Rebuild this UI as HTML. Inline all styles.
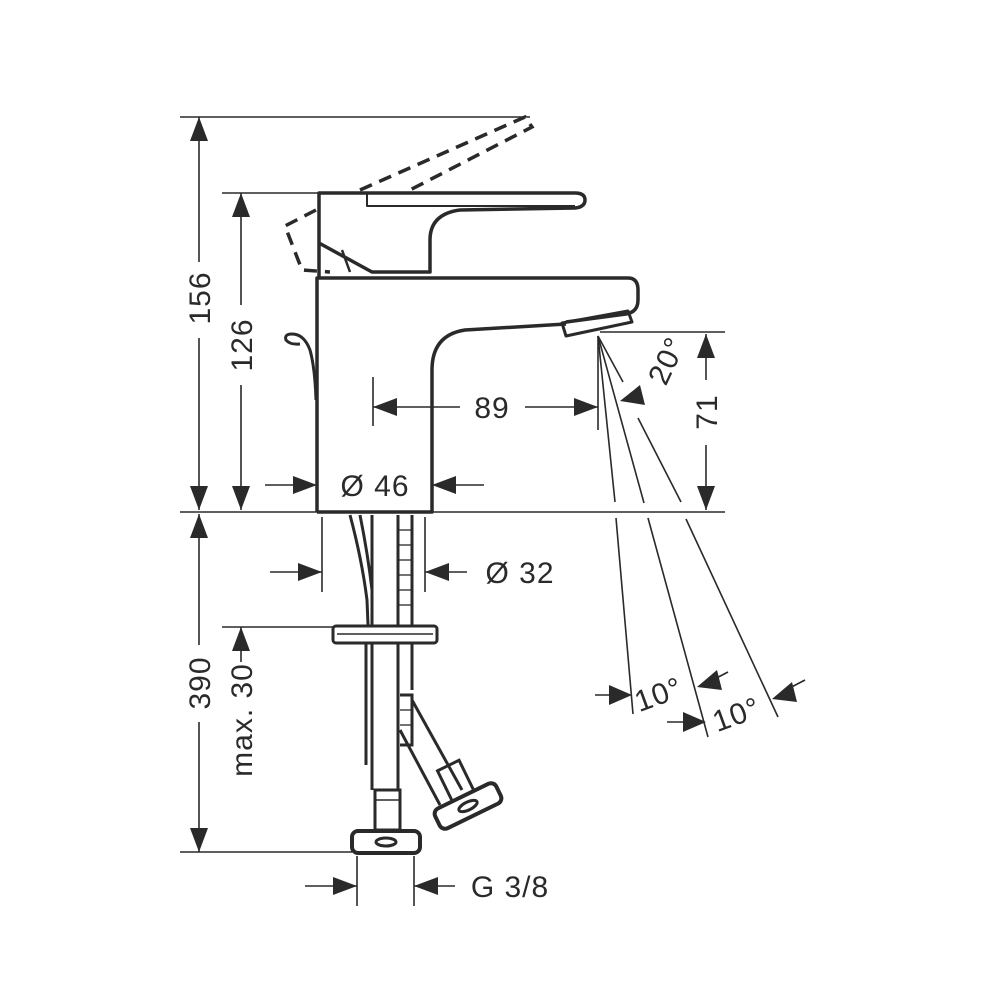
<!DOCTYPE html>
<html><head><meta charset="utf-8"><style>
html,body{margin:0;padding:0;background:#fff;}
svg{display:block;}
text{font-family:"Liberation Sans",sans-serif;fill:#2a2a2a;font-size:30px;letter-spacing:1px;}
</style></head><body>
<svg width="1000" height="1000" viewBox="0 0 1000 1000" xmlns="http://www.w3.org/2000/svg">
<g stroke="#2a2a2a" fill="none" stroke-width="1.6">
<line x1="180" y1="117" x2="530" y2="117"/>
<line x1="222" y1="193" x2="320" y2="193"/>
<line x1="180" y1="512" x2="318" y2="512"/>
<line x1="432" y1="512" x2="725" y2="512"/>
<line x1="180" y1="852" x2="352" y2="852"/>
<line x1="222" y1="627" x2="335" y2="627"/>
<line x1="600" y1="332" x2="725" y2="332"/>
<line x1="199" y1="117" x2="199" y2="262"/>
<line x1="199" y1="338" x2="199" y2="510"/>
<line x1="241" y1="193" x2="241" y2="305"/>
<line x1="241" y1="385" x2="241" y2="510"/>
<line x1="199" y1="514" x2="199" y2="645"/>
<line x1="199" y1="722" x2="199" y2="852"/>
<line x1="241" y1="627" x2="241" y2="662"/>
<line x1="706" y1="334" x2="706" y2="380"/>
<line x1="706" y1="445" x2="706" y2="510"/>
<line x1="373" y1="377" x2="373" y2="426"/>
<line x1="373" y1="407" x2="460" y2="407"/>
<line x1="525" y1="407" x2="598" y2="407"/>
<line x1="265" y1="485" x2="317" y2="485"/>
<line x1="432" y1="485" x2="484" y2="485"/>
<line x1="322" y1="517" x2="322" y2="592"/>
<line x1="425" y1="517" x2="425" y2="592"/>
<line x1="270" y1="572" x2="322" y2="572"/>
<line x1="425" y1="572" x2="467" y2="572"/>
<line x1="357" y1="856" x2="357" y2="906"/>
<line x1="414" y1="856" x2="414" y2="906"/>
<line x1="305" y1="886" x2="357" y2="886"/>
<line x1="414" y1="886" x2="455" y2="886"/>
<line x1="598" y1="336" x2="598" y2="430"/>
<line x1="598" y1="336" x2="615" y2="502"/>
<line x1="616" y1="518" x2="633" y2="714"/>
<line x1="598" y1="336" x2="644" y2="503"/>
<line x1="648" y1="518" x2="708" y2="737"/>
<line x1="598" y1="336" x2="623" y2="382"/>
<line x1="638" y1="418" x2="681" y2="502"/>
<line x1="686" y1="519" x2="778" y2="717"/>
<line x1="595" y1="695" x2="615" y2="695"/>
<line x1="728" y1="672" x2="705" y2="684"/>
<line x1="667" y1="722" x2="690" y2="722"/>
<line x1="805" y1="680" x2="782" y2="692"/>
<line x1="625" y1="398" x2="640" y2="392"/>
</g>
<g fill="#2a2a2a">
<polygon points="199,117 190,141 208,141"/>
<polygon points="199,510 190,486 208,486"/>
<polygon points="241,193 232,217 250,217"/>
<polygon points="241,510 232,486 250,486"/>
<polygon points="199,514 190,538 208,538"/>
<polygon points="199,852 190,828 208,828"/>
<polygon points="241,627 232,651 250,651"/>
<polygon points="706,334 697,358 715,358"/>
<polygon points="706,510 697,486 715,486"/>
<polygon points="373,407 397,398 397,416"/>
<polygon points="598,407 574,398 574,416"/>
<polygon points="317,485 293,476 293,494"/>
<polygon points="432,485 456,476 456,494"/>
<polygon points="322,572 298,563 298,581"/>
<polygon points="425,572 449,563 449,581"/>
<polygon points="357,886 333,877 333,895"/>
<polygon points="414,886 438,877 438,895"/>
<polygon points="632,695 609,685 609,705"/>
<polygon points="697,687 717,670 722,690"/>
<polygon points="706,722 683,712 683,732"/>
<polygon points="772,699 792,682 797,702"/>
<polygon points="620,401 640,385 645,405"/>
</g>
<g text-anchor="middle">
<text transform="translate(210,298) rotate(-90)">156</text>
<text transform="translate(252,345) rotate(-90)">126</text>
<text transform="translate(210,683) rotate(-90)">390</text>
<text transform="translate(252,720) rotate(-90)">max. 30</text>
<text transform="translate(717,412) rotate(-90)">71</text>
<text transform="translate(676,365) rotate(-65)">20°</text>
<text transform="translate(662,704) rotate(-20)">10°</text>
<text transform="translate(740,724) rotate(-20)">10°</text>
<text x="492" y="418">89</text>
<text x="375" y="496">Ø 46</text>
<text x="520" y="583">Ø 32</text>
<text x="510" y="897">G 3/8</text>
</g>
<g stroke="#2a2a2a" fill="none" stroke-width="3.5" stroke-linejoin="round">
<path d="M317,512 L317,278 L628,278 Q638,278 638,290 L638,300 Q638,312 626,314 L566,322"/>
<path d="M317,512 L432,512 L432,370 Q432,335 465,330 L566,324"/>
<polygon points="562,323 628,311 632,322 566,336" stroke-width="3"/>
<path d="M319,278 L319,193 L575,193 Q585,193 585,200 Q585,207 575,208 L460,210 Q430,214 430,240 L430,272 L372,272 L319,243"/>
<path d="M367,193 L367,206 L575,206" stroke-width="2"/>
<path d="M350,272 L342,250" stroke-width="2.5"/>
<path d="M300,344 Q290,345 286,340 Q284,334 292,334 Q304,334 310,350 Q315,368 316,400" stroke-width="3"/>
</g>
<g stroke="#2a2a2a" fill="none" stroke-width="3.5" stroke-dasharray="13,8">
<path d="M360,190 L525,117 L532,127 L410,190"/>
<path d="M316,210 L285,226 L302,270 L330,272"/>
</g>
<g stroke="#2a2a2a" fill="none" stroke-width="3">
<path d="M350,515 Q362,560 367,600 L368,625"/>
<path d="M360,515 Q368,555 372,590"/>
<line x1="372" y1="515" x2="372" y2="625"/>
<line x1="398" y1="515" x2="398" y2="625"/>
<line x1="412" y1="515" x2="412" y2="625"/>
<rect x="333" y="626" width="104" height="17" rx="3"/>
<line x1="337" y1="634" x2="433" y2="634" stroke-width="1.5"/>
<line x1="372" y1="643" x2="372" y2="790"/>
<line x1="398" y1="643" x2="398" y2="790"/>
<line x1="366" y1="643" x2="366" y2="765"/>
<line x1="412" y1="643" x2="412" y2="690"/>
<path d="M400,695 L412,695 L412,745 L400,745"/>
<path d="M412,700 L462,790"/>
<path d="M400,730 L440,805"/>
<rect x="375" y="790" width="25" height="40"/>
<line x1="375" y1="800" x2="400" y2="800" stroke-width="1.5"/>
<rect x="352" y="831" width="68" height="22" rx="6" stroke-width="4"/>
<ellipse cx="386" cy="842" rx="10" ry="4"/>
<g transform="translate(468,806) rotate(-26)">
<rect x="-34" y="-11" width="68" height="22" rx="6" stroke-width="4"/>
<ellipse cx="0" cy="0" rx="10" ry="4"/>
<rect x="-12" y="-45" width="24" height="34"/>
</g>
</g>
<g stroke="#2a2a2a" stroke-width="1.3">
<line x1="398" y1="530" x2="412" y2="530"/><line x1="398" y1="545" x2="412" y2="545"/><line x1="398" y1="560" x2="412" y2="560"/><line x1="398" y1="575" x2="412" y2="575"/><line x1="398" y1="590" x2="412" y2="590"/><line x1="398" y1="605" x2="412" y2="605"/>
<line x1="400" y1="710" x2="412" y2="710"/><line x1="400" y1="725" x2="412" y2="725"/>
</g>
</svg>
</body></html>
